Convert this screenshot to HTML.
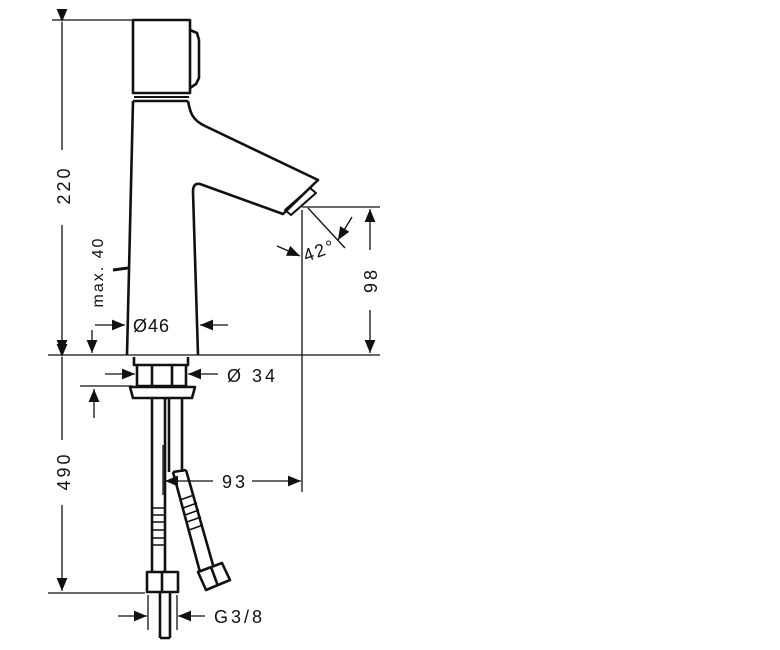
<!DOCTYPE html>
<html><head><style>body{margin:0;background:#fff}svg{display:block}text{font-family:"Liberation Sans",sans-serif;fill:#111}</style></head><body>
<svg width="780" height="650" viewBox="0 0 780 650" xmlns="http://www.w3.org/2000/svg">
<defs><marker id="a" viewBox="0 0 12 10" refX="12" refY="5" markerWidth="13" markerHeight="11" markerUnits="userSpaceOnUse" orient="auto"><path d="M0,0L12,5L0,10z" fill="#111"/></marker></defs>
<g stroke="#111" fill="none" stroke-width="1.3">
<line x1="52" y1="20" x2="190" y2="20"/>
<line x1="48" y1="355" x2="380" y2="355"/>
<line x1="302" y1="210" x2="302" y2="492"/>
<line x1="302" y1="207" x2="380" y2="207"/>
<line x1="48" y1="593" x2="145" y2="593"/>
<line x1="80" y1="386" x2="133" y2="386"/>
<line x1="148" y1="595" x2="148" y2="630"/>
<line x1="177" y1="595" x2="177" y2="630"/>
</g>
<g stroke="#111" fill="none" stroke-width="2.6" stroke-linejoin="round">
<rect x="133" y="20" width="57" height="73"/>
<path d="M190,30 L197,33 L199,40 L199,78 L196,84 L190,88"/>
<line x1="134" y1="97" x2="189" y2="97" stroke-width="2"/>
<path d="M133,101 L127,355"/>
<path d="M188,101 C190,112 192,120 205,126 L318,180 L283,214 L200,184 C195,183 193,186 193,192 L198,355"/>
<path d="M133,101 L188,101"/>
<path d="M285,210 L310,188 L316,193 L291,215 Z" stroke-width="2"/>
<path d="M113,270 L128,268" stroke-width="3"/>
<path d="M134,357 L134,365 L188,365 L188,357"/>
<path d="M137,365 L137,386 L186,386 L186,365"/>
<line x1="152" y1="365" x2="152" y2="386"/>
<line x1="172" y1="365" x2="172" y2="386"/>
<path d="M130,387 L195,387 L192,398 L133,398 Z"/>
<path d="M152,398 L152,572 M165,398 L165,572"/>
<path d="M152,508 L165,508 M152,515 L165,515 M152,522 L165,522 M152,530 L165,530 M152,538 L165,538 M152,545 L165,545" stroke-width="1.5"/>
<rect x="147" y="572" width="31" height="20"/>
<line x1="162" y1="572" x2="162" y2="592"/>
<path d="M160,592 L160,638 M170,592 L170,638 M160,638 L170,638"/>
<path d="M169,398 L169,472 M182,398 L182,472"/>
<path d="M173,472 L200,572 M186,470 L213,565 M173,472 L186,470"/>
<path d="M180,500 L194,495 M183,508 L197,503 M185,515 L199,510 M187,522 L201,517 M189,530 L203,525" stroke-width="1.5"/>
<path d="M198,572 L222,563 L230,580 L206,590 Z"/>
<line x1="211" y1="567" x2="218" y2="586"/>
</g>
<g stroke="#111" fill="none" stroke-width="1.3">
<line x1="62" y1="22" x2="62" y2="150" marker-start="url(#a)"/>
<line x1="62" y1="225" x2="62" y2="353" marker-end="url(#a)"/>
<line x1="92" y1="330" x2="92" y2="353" marker-end="url(#a)"/>
<line x1="94" y1="418" x2="94" y2="389" marker-end="url(#a)"/>
<line x1="62" y1="357" x2="62" y2="440" marker-start="url(#a)"/>
<line x1="62" y1="505" x2="62" y2="591" marker-end="url(#a)"/>
<line x1="95" y1="325" x2="125" y2="325" marker-end="url(#a)"/>
<line x1="228" y1="325" x2="200" y2="325" marker-end="url(#a)"/>
<line x1="105" y1="374" x2="135" y2="374" marker-end="url(#a)"/>
<line x1="218" y1="374" x2="188" y2="374" marker-end="url(#a)"/>
<line x1="213" y1="481" x2="165" y2="481" marker-end="url(#a)"/>
<line x1="252" y1="481" x2="301" y2="481" marker-end="url(#a)"/>
<line x1="163" y1="445" x2="163" y2="495"/>
<line x1="370" y1="250" x2="370" y2="209" marker-end="url(#a)"/>
<line x1="370" y1="310" x2="370" y2="353" marker-end="url(#a)"/>
<line x1="118" y1="616" x2="147" y2="616" marker-end="url(#a)"/>
<line x1="205" y1="616" x2="178" y2="616" marker-end="url(#a)"/>
<line x1="308" y1="208" x2="345" y2="248"/>
<line x1="352" y1="217" x2="338" y2="240" marker-end="url(#a)"/>
<line x1="277" y1="246" x2="300" y2="256" marker-end="url(#a)"/>
</g>
<g font-size="18">
<text transform="translate(70,185) rotate(-90)" text-anchor="middle" letter-spacing="3">220</text>
<text transform="translate(70,471) rotate(-90)" text-anchor="middle" letter-spacing="3">490</text>
<text transform="translate(103,272) rotate(-90)" text-anchor="middle" letter-spacing="2" font-size="16">max. 40</text>
<text transform="translate(377,280) rotate(-90)" text-anchor="middle" letter-spacing="3">98</text>
<text x="133" y="332" letter-spacing="1">Ø46</text>
<text x="227" y="382" letter-spacing="3">Ø 34</text>
<text x="222" y="488" letter-spacing="3">93</text>
<text x="214" y="623" letter-spacing="3">G3/8</text>
<text transform="translate(306,262) rotate(-20)" letter-spacing="2">42°</text>
</g>
</svg>
</body></html>
